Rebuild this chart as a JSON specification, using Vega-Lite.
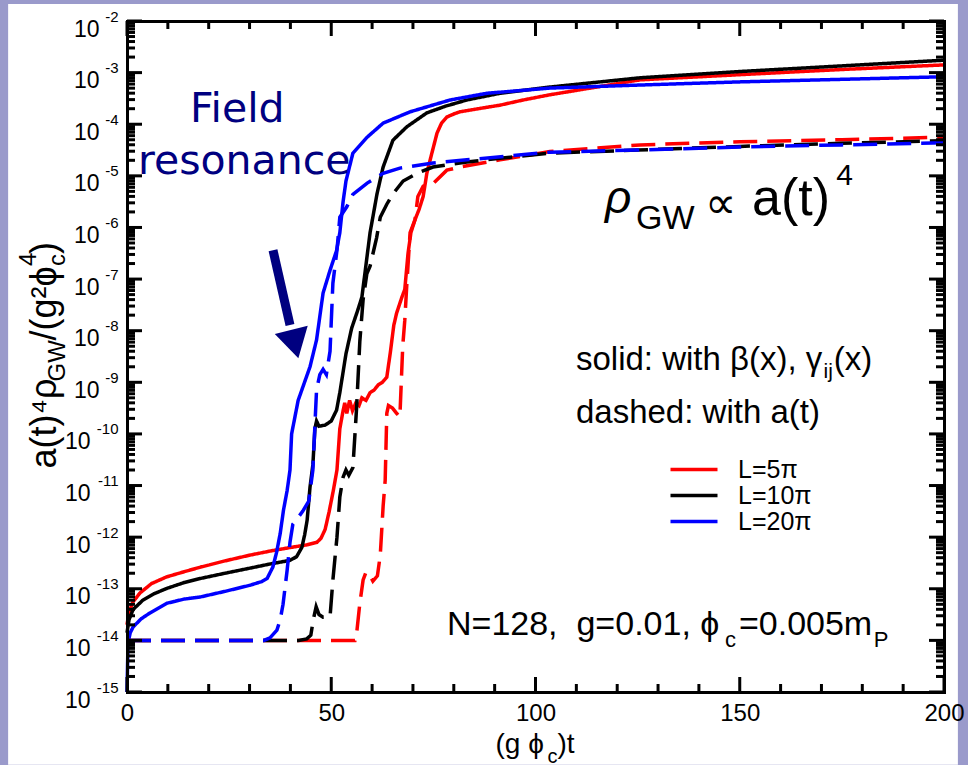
{
"$schema": "https://vega.github.io/schema/vega-lite/v6.json",
"width": 817, "height": 671,
"autosize": {"type": "none"},
"padding": {"left": 127, "top": 21, "right": 24, "bottom": 73},
"background": "#9a9acb",
"config": {
 "view": {"stroke": null},
 "axis": {"grid": false, "zindex": 1, "tickColor": "black", "tickWidth": 2, "domainColor": "black", "domainWidth": 3, "domainCap": "square", "labelColor": "black", "labelFont": "Liberation Sans", "titleFont": "Liberation Sans", "titleColor": "black", "titleFontWeight": "normal", "labelOverlap": false, "labelFlush": false, "titleAlign": "left", "titleBaseline": "alphabetic", "titlePadding": 0},
 "line": {"strokeWidth": 3.5, "clip": true}
},
"datasets": {
 "xmaj": [{"t":0},{"t":50},{"t":100},{"t":150},{"t":200}],
 "xmin": [{"t":10},{"t":20},{"t":30},{"t":40},{"t":60},{"t":70},{"t":80},{"t":90},{"t":110},{"t":120},{"t":130},{"t":140},{"t":160},{"t":170},{"t":180},{"t":190}],
 "ymaj": [{"v":1e-15},{"v":1e-14},{"v":1e-13},{"v":1e-12},{"v":1e-11},{"v":1e-10},{"v":1e-9},{"v":1e-8},{"v":1e-7},{"v":1e-6},{"v":1e-5},{"v":1e-4},{"v":1e-3},{"v":1e-2}],
 "ymin": [{"v":2e-15},{"v":3e-15},{"v":4e-15},{"v":5e-15},{"v":6e-15},{"v":7e-15},{"v":8e-15},{"v":9e-15},{"v":2e-14},{"v":3e-14},{"v":4e-14},{"v":5e-14},{"v":6e-14},{"v":7e-14},{"v":8e-14},{"v":9e-14},{"v":2e-13},{"v":3e-13},{"v":4e-13},{"v":5e-13},{"v":6e-13},{"v":7e-13},{"v":8e-13},{"v":9e-13},{"v":2e-12},{"v":3e-12},{"v":4e-12},{"v":5e-12},{"v":6e-12},{"v":7e-12},{"v":8e-12},{"v":9e-12},{"v":2e-11},{"v":3e-11},{"v":4e-11},{"v":5e-11},{"v":6e-11},{"v":7e-11},{"v":8e-11},{"v":9e-11},{"v":2e-10},{"v":3e-10},{"v":4e-10},{"v":5e-10},{"v":6e-10},{"v":7e-10},{"v":8e-10},{"v":9e-10},{"v":2e-9},{"v":3e-9},{"v":4e-9},{"v":5e-9},{"v":6e-9},{"v":7e-9},{"v":8e-9},{"v":9e-9},{"v":2e-8},{"v":3e-8},{"v":4e-8},{"v":5e-8},{"v":6e-8},{"v":7e-8},{"v":8e-8},{"v":9e-8},{"v":2e-7},{"v":3e-7},{"v":4e-7},{"v":5e-7},{"v":6e-7},{"v":7e-7},{"v":8e-7},{"v":9e-7},{"v":2e-6},{"v":3e-6},{"v":4e-6},{"v":5e-6},{"v":6e-6},{"v":7e-6},{"v":8e-6},{"v":9e-6},{"v":2e-5},{"v":3e-5},{"v":4e-5},{"v":5e-5},{"v":6e-5},{"v":7e-5},{"v":8e-5},{"v":9e-5},{"v":2e-4},{"v":3e-4},{"v":4e-4},{"v":5e-4},{"v":6e-4},{"v":7e-4},{"v":8e-4},{"v":9e-4},{"v":2e-3},{"v":3e-3},{"v":4e-3},{"v":5e-3},{"v":6e-3},{"v":7e-3},{"v":8e-3},{"v":9e-3}]
},
"resolve": {"axis": {"x": "independent", "y": "independent"}},
"layer": [
 {
  "data": {"values": [{}]},
  "mark": {"type": "rect", "color": "white", "clip": false},
  "encoding": {
   "x": {"datum": -29.1, "type": "quantitative", "scale": {"domain": [0, 200], "nice": false, "zero": false}, "axis": null},
   "x2": {"datum": 203.4},
   "y": {"datum": 0.0214, "type": "quantitative", "scale": {"type": "log", "domain": [1e-15, 1e-2], "nice": false},
    "axis": {"zindex": 1, "orient": "left", "values": [1e-15,1e-14,1e-13,1e-12,1e-11,1e-10,1e-9,1e-8,1e-7,1e-6,1e-5,1e-4,1e-3,1e-2], "labelExpr": "'-' + round(-log(datum.value)/LN10)", "labelFontSize": 15, "labelAlign": "right", "labelBaseline": "middle", "labelOffset": -5, "labelPadding": 9, "ticks": false, "domain": false, "title": "GW", "titleFontSize": 24, "titleAngle": 270, "titleX": -63, "titleY": 360}},
   "y2": {"datum": 3.9e-17}
  }
 },
 {
  "data": {"values": [
{"L":"L=5π","type":"solid","t":0,"v":2.0e-14},{"L":"L=5π","type":"solid","t":0.5,"v":3.55e-14},{"L":"L=5π","type":"solid","t":1.5,"v":5.62e-14},{"L":"L=5π","type":"solid","t":3.2,"v":8.32e-14},{"L":"L=5π","type":"solid","t":6,"v":1.26e-13},{"L":"L=5π","type":"solid","t":9.7,"v":1.70e-13},{"L":"L=5π","type":"solid","t":14,"v":2.14e-13},{"L":"L=5π","type":"solid","t":18,"v":2.63e-13},{"L":"L=5π","type":"solid","t":24,"v":3.47e-13},{"L":"L=5π","type":"solid","t":30,"v":4.47e-13},{"L":"L=5π","type":"solid","t":35,"v":5.37e-13},{"L":"L=5π","type":"solid","t":40,"v":6.31e-13},{"L":"L=5π","type":"solid","t":44,"v":7.08e-13},{"L":"L=5π","type":"solid","t":46.5,"v":7.94e-13},{"L":"L=5π","type":"solid","t":47.5,"v":9.55e-13},{"L":"L=5π","type":"solid","t":48.5,"v":1.41e-12},{"L":"L=5π","type":"solid","t":49.5,"v":3.16e-12},{"L":"L=5π","type":"solid","t":50.5,"v":7.94e-12},{"L":"L=5π","type":"solid","t":51.4,"v":2.0e-11},{"L":"L=5π","type":"solid","t":52.1,"v":1.26e-10},{"L":"L=5π","type":"solid","t":52.9,"v":2.82e-10},{"L":"L=5π","type":"solid","t":53.3,"v":3.98e-10},{"L":"L=5π","type":"solid","t":53.8,"v":2.51e-10},{"L":"L=5π","type":"solid","t":54.5,"v":4.47e-10},{"L":"L=5π","type":"solid","t":55.2,"v":2.82e-10},{"L":"L=5π","type":"solid","t":56,"v":3.98e-10},{"L":"L=5π","type":"solid","t":56.8,"v":3.55e-10},{"L":"L=5π","type":"solid","t":57.5,"v":5.01e-10},{"L":"L=5π","type":"solid","t":58.5,"v":4.47e-10},{"L":"L=5π","type":"solid","t":59.5,"v":6.31e-10},{"L":"L=5π","type":"solid","t":60.5,"v":7.08e-10},{"L":"L=5π","type":"solid","t":61.5,"v":8.91e-10},{"L":"L=5π","type":"solid","t":62.5,"v":1.0e-9},{"L":"L=5π","type":"solid","t":63.6,"v":1.26e-9},{"L":"L=5π","type":"solid","t":64.5,"v":3.98e-9},{"L":"L=5π","type":"solid","t":65.3,"v":1.26e-8},{"L":"L=5π","type":"solid","t":66,"v":2.19e-8},{"L":"L=5π","type":"solid","t":67.3,"v":4.47e-8},{"L":"L=5π","type":"solid","t":68,"v":6.31e-8},{"L":"L=5π","type":"solid","t":68.8,"v":3.16e-7},{"L":"L=5π","type":"solid","t":69.5,"v":7.94e-7},{"L":"L=5π","type":"solid","t":70.5,"v":1.41e-6},{"L":"L=5π","type":"solid","t":71.5,"v":2.24e-6},{"L":"L=5π","type":"solid","t":72.5,"v":3.98e-6},{"L":"L=5π","type":"solid","t":73.4,"v":1.12e-5},{"L":"L=5π","type":"solid","t":74.5,"v":2.51e-5},{"L":"L=5π","type":"solid","t":75.9,"v":6.76e-5},{"L":"L=5π","type":"solid","t":77,"v":1.05e-4},{"L":"L=5π","type":"solid","t":78.3,"v":1.38e-4},{"L":"L=5π","type":"solid","t":80,"v":1.58e-4},{"L":"L=5π","type":"solid","t":81.5,"v":1.74e-4},{"L":"L=5π","type":"solid","t":86,"v":2.0e-4},{"L":"L=5π","type":"solid","t":91.3,"v":2.34e-4},{"L":"L=5π","type":"solid","t":97,"v":2.95e-4},{"L":"L=5π","type":"solid","t":103.5,"v":3.72e-4},{"L":"L=5π","type":"solid","t":125.6,"v":7.24e-4},{"L":"L=5π","type":"solid","t":150,"v":9.12e-4},{"L":"L=5π","type":"solid","t":175,"v":1.15e-3},{"L":"L=5π","type":"solid","t":200,"v":1.41e-3}
  ]},
  "mark": {"type": "line"},
  "encoding": {
   "x": {"field": "t", "type": "quantitative", "scale": {"domain": [0, 200], "nice": false, "zero": false},
    "axis": {"zindex": 1, "orient": "bottom", "values": [0, 50, 100, 150, 200], "format": "d", "labelFontSize": 24, "labelPadding": 9, "ticks": false, "domain": true, "title": "(g ϕ", "titleFontSize": 28, "titleX": 368, "titleY": 60, "titleAngle": 0}},
   "y": {"field": "v", "type": "quantitative", "scale": {"type": "log", "domain": [1e-15, 1e-2], "nice": false},
    "axis": {"zindex": 1, "orient": "left", "values": [1e-15,1e-14,1e-13,1e-12,1e-11,1e-10,1e-9,1e-8,1e-7,1e-6,1e-5,1e-4,1e-3,1e-2], "labelExpr": "'10'", "labelFontSize": 23, "labelAlign": "right", "labelBaseline": "middle", "labelOffset": 8, "labelPadding": {"condition": {"test": "datum.value < 1e-9", "value": 37}, "value": 28}, "ticks": false, "domain": true, "title": "a(t)⁴ρ", "titleFontSize": 36, "titleAngle": 270, "titleX": -72, "titleY": 447}},
   "color": {"field": "L", "type": "nominal", "scale": {"domain": ["L=5π", "L=10π", "L=20π"], "range": ["#ff0000", "#000000", "#0000ff"]},
    "legend": {"orient": "none", "legendX": 554.5, "legendY": 436, "title": null, "symbolType": "M-2.35,0H2.35", "symbolSize": 400, "symbolStrokeWidth": 3.5, "labelFontSize": 25, "labelFont": "Liberation Sans", "labelColor": "black", "labelOffset": 31.5, "rowPadding": -1, "padding": 0}},
   "strokeDash": {"field": "type", "type": "nominal", "scale": {"domain": ["solid", "dashed"], "range": [[1, 0], [24, 10]]}, "legend": null}
  }
 },
 {
  "data": {"values": [
{"L":"L=10π","type":"solid","t":0,"v":1.41e-14},{"L":"L=10π","type":"solid","t":0.5,"v":2.51e-14},{"L":"L=10π","type":"solid","t":1.5,"v":3.98e-14},{"L":"L=10π","type":"solid","t":3.9,"v":6.03e-14},{"L":"L=10π","type":"solid","t":6.5,"v":7.94e-14},{"L":"L=10π","type":"solid","t":9.8,"v":1.02e-13},{"L":"L=10π","type":"solid","t":14,"v":1.32e-13},{"L":"L=10π","type":"solid","t":17.9,"v":1.58e-13},{"L":"L=10π","type":"solid","t":24,"v":2.0e-13},{"L":"L=10π","type":"solid","t":30.1,"v":2.51e-13},{"L":"L=10π","type":"solid","t":35,"v":3.02e-13},{"L":"L=10π","type":"solid","t":39.9,"v":3.55e-13},{"L":"L=10π","type":"solid","t":41.5,"v":4.17e-13},{"L":"L=10π","type":"solid","t":42.8,"v":6.31e-13},{"L":"L=10π","type":"solid","t":43.5,"v":1.12e-12},{"L":"L=10π","type":"solid","t":44.1,"v":2.14e-12},{"L":"L=10π","type":"solid","t":44.8,"v":9.33e-12},{"L":"L=10π","type":"solid","t":45.5,"v":2.51e-11},{"L":"L=10π","type":"solid","t":46.0,"v":1.26e-10},{"L":"L=10π","type":"solid","t":46.4,"v":1.78e-10},{"L":"L=10π","type":"solid","t":47,"v":1.41e-10},{"L":"L=10π","type":"solid","t":48.5,"v":1.48e-10},{"L":"L=10π","type":"solid","t":50,"v":1.78e-10},{"L":"L=10π","type":"solid","t":51.3,"v":2.88e-10},{"L":"L=10π","type":"solid","t":52.1,"v":6.31e-10},{"L":"L=10π","type":"solid","t":53.6,"v":3.55e-9},{"L":"L=10π","type":"solid","t":55,"v":1.12e-8},{"L":"L=10π","type":"solid","t":56.5,"v":2.51e-8},{"L":"L=10π","type":"solid","t":57.5,"v":4.47e-8},{"L":"L=10π","type":"solid","t":58.7,"v":2.51e-7},{"L":"L=10π","type":"solid","t":59.5,"v":7.94e-7},{"L":"L=10π","type":"solid","t":60.3,"v":1.78e-6},{"L":"L=10π","type":"solid","t":61.2,"v":4.47e-6},{"L":"L=10π","type":"solid","t":62.7,"v":1.48e-5},{"L":"L=10π","type":"solid","t":65.1,"v":4.90e-5},{"L":"L=10π","type":"solid","t":68.5,"v":8.91e-5},{"L":"L=10π","type":"solid","t":73.4,"v":1.66e-4},{"L":"L=10π","type":"solid","t":78,"v":2.24e-4},{"L":"L=10π","type":"solid","t":83.2,"v":2.95e-4},{"L":"L=10π","type":"solid","t":91.3,"v":3.98e-4},{"L":"L=10π","type":"solid","t":103.5,"v":5.25e-4},{"L":"L=10π","type":"solid","t":125.6,"v":7.94e-4},{"L":"L=10π","type":"solid","t":150,"v":1.05e-3},{"L":"L=10π","type":"solid","t":175,"v":1.35e-3},{"L":"L=10π","type":"solid","t":200,"v":1.74e-3}
  ]},
  "mark": {"type": "line"},
  "encoding": {
   "x": {"field": "t", "type": "quantitative",
    "axis": {"zindex": 1, "orient": "bottom", "values": [0, 200], "labels": false, "ticks": false, "offset": -15, "domain": false, "title": "c", "titleFontSize": 20, "titleX": 420, "titleY": 85, "titleAngle": 0}},
   "y": {"field": "v", "type": "quantitative",
    "axis": {"zindex": 1, "orient": "left", "values": [1e-15, 1e-2], "labels": false, "ticks": false, "offset": -15, "domain": false, "title": "/(g²ϕ", "titleFontSize": 36, "titleAngle": 270, "titleX": -87, "titleY": 319}},
   "color": {"field": "L", "type": "nominal"},
   "strokeDash": {"field": "type", "type": "nominal", "legend": null}
  }
 },
 {
  "data": {"values": [
{"L":"L=20π","type":"solid","t":0,"v":1e-15},{"L":"L=20π","type":"solid","t":0.25,"v":8.91e-15},{"L":"L=20π","type":"solid","t":0.8,"v":1.41e-14},{"L":"L=20π","type":"solid","t":1.5,"v":1.82e-14},{"L":"L=20π","type":"solid","t":3.5,"v":2.63e-14},{"L":"L=20π","type":"solid","t":5.6,"v":3.39e-14},{"L":"L=20π","type":"solid","t":9.8,"v":5.25e-14},{"L":"L=20π","type":"solid","t":14,"v":6.31e-14},{"L":"L=20π","type":"solid","t":17.9,"v":6.92e-14},{"L":"L=20π","type":"solid","t":24,"v":8.91e-14},{"L":"L=20π","type":"solid","t":30.1,"v":1.17e-13},{"L":"L=20π","type":"solid","t":33,"v":1.38e-13},{"L":"L=20π","type":"solid","t":34.3,"v":1.58e-13},{"L":"L=20π","type":"solid","t":35.7,"v":2.63e-13},{"L":"L=20π","type":"solid","t":36.6,"v":5.01e-13},{"L":"L=20π","type":"solid","t":37.5,"v":1.17e-12},{"L":"L=20π","type":"solid","t":38.3,"v":3.31e-12},{"L":"L=20π","type":"solid","t":39.2,"v":8.0e-12},{"L":"L=20π","type":"solid","t":39.9,"v":2.0e-11},{"L":"L=20π","type":"solid","t":40.3,"v":1.0e-10},{"L":"L=20π","type":"solid","t":41.9,"v":4.47e-10},{"L":"L=20π","type":"solid","t":44.8,"v":2.0e-9},{"L":"L=20π","type":"solid","t":46.4,"v":6.61e-9},{"L":"L=20π","type":"solid","t":48,"v":5.37e-8},{"L":"L=20π","type":"solid","t":49.7,"v":1.48e-7},{"L":"L=20π","type":"solid","t":51.3,"v":3.55e-7},{"L":"L=20π","type":"solid","t":52.1,"v":7.94e-7},{"L":"L=20π","type":"solid","t":52.9,"v":3.16e-6},{"L":"L=20π","type":"solid","t":53.6,"v":7.94e-6},{"L":"L=20π","type":"solid","t":55.3,"v":2.75e-5},{"L":"L=20π","type":"solid","t":58.8,"v":5.62e-5},{"L":"L=20π","type":"solid","t":62.7,"v":1.05e-4},{"L":"L=20π","type":"solid","t":69.3,"v":1.74e-4},{"L":"L=20π","type":"solid","t":79.1,"v":2.95e-4},{"L":"L=20π","type":"solid","t":88.1,"v":3.98e-4},{"L":"L=20π","type":"solid","t":103.5,"v":5.01e-4},{"L":"L=20π","type":"solid","t":125.6,"v":5.75e-4},{"L":"L=20π","type":"solid","t":150,"v":6.61e-4},{"L":"L=20π","type":"solid","t":175,"v":7.41e-4},{"L":"L=20π","type":"solid","t":200,"v":8.32e-4}
  ]},
  "mark": {"type": "line"},
  "encoding": {
   "x": {"field": "t", "type": "quantitative",
    "axis": {"zindex": 1, "orient": "bottom", "values": [0, 200], "labels": false, "ticks": false, "offset": -8, "domain": false, "title": ")t", "titleFontSize": 28, "titleX": 430, "titleY": 68, "titleAngle": 0}},
   "y": {"field": "v", "type": "quantitative",
    "axis": {"zindex": 1, "orient": "left", "values": [1e-15, 1e-2], "labels": false, "ticks": false, "offset": -8, "domain": false, "title": "c", "titleFontSize": 24, "titleAngle": 270, "titleX": -71, "titleY": 244.5}},
   "color": {"field": "L", "type": "nominal"},
   "strokeDash": {"field": "type", "type": "nominal", "legend": null}
  }
 },
 {
  "data": {"values": [
{"L":"L=5π","type":"dashed","t":0,"v":1e-14},{"L":"L=5π","type":"dashed","t":55.8,"v":1e-14},{"L":"L=5π","type":"dashed","t":56.3,"v":1.58e-14},{"L":"L=5π","type":"dashed","t":57,"v":5.25e-14},{"L":"L=5π","type":"dashed","t":57.8,"v":1.48e-13},{"L":"L=5π","type":"dashed","t":58.5,"v":2.09e-13},{"L":"L=5π","type":"dashed","t":59.3,"v":1.91e-13},{"L":"L=5π","type":"dashed","t":60.2,"v":1.41e-13},{"L":"L=5π","type":"dashed","t":61.3,"v":1.78e-13},{"L":"L=5π","type":"dashed","t":62,"v":4.47e-13},{"L":"L=5π","type":"dashed","t":62.7,"v":3.98e-12},{"L":"L=5π","type":"dashed","t":63.2,"v":1.26e-11},{"L":"L=5π","type":"dashed","t":63.6,"v":2.51e-10},{"L":"L=5π","type":"dashed","t":64,"v":3.55e-10},{"L":"L=5π","type":"dashed","t":65,"v":3.16e-10},{"L":"L=5π","type":"dashed","t":66,"v":2.51e-10},{"L":"L=5π","type":"dashed","t":66.8,"v":2.14e-10},{"L":"L=5π","type":"dashed","t":67.5,"v":5.01e-9},{"L":"L=5π","type":"dashed","t":68,"v":1.58e-8},{"L":"L=5π","type":"dashed","t":68.5,"v":7.94e-8},{"L":"L=5π","type":"dashed","t":69.3,"v":7.94e-7},{"L":"L=5π","type":"dashed","t":70.5,"v":1.41e-6},{"L":"L=5π","type":"dashed","t":71.2,"v":3.98e-6},{"L":"L=5π","type":"dashed","t":72.5,"v":6.31e-6},{"L":"L=5π","type":"dashed","t":74.9,"v":7.08e-6},{"L":"L=5π","type":"dashed","t":78.3,"v":1.29e-5},{"L":"L=5π","type":"dashed","t":81.5,"v":1.48e-5},{"L":"L=5π","type":"dashed","t":91.3,"v":2.04e-5},{"L":"L=5π","type":"dashed","t":103.5,"v":2.95e-5},{"L":"L=5π","type":"dashed","t":125.6,"v":3.98e-5},{"L":"L=5π","type":"dashed","t":150,"v":4.57e-5},{"L":"L=5π","type":"dashed","t":175,"v":5.01e-5},{"L":"L=5π","type":"dashed","t":200,"v":5.62e-5}
  ]},
  "mark": {"type": "line"},
  "encoding": {
   "x": {"field": "t", "type": "quantitative", "axis": null},
   "y": {"field": "v", "type": "quantitative",
    "axis": {"zindex": 1, "orient": "right", "values": [1e-15, 1e-2], "labels": false, "ticks": false, "offset": -15, "domain": false, "title": "4", "titleFontSize": 24, "titleAngle": 270, "titleX": -894, "titleY": 244.5}},
   "color": {"field": "L", "type": "nominal"},
   "strokeDash": {"field": "type", "type": "nominal", "legend": null}
  }
 },
 {
  "data": {"values": [
{"L":"L=10π","type":"dashed","t":0,"v":1e-14},{"L":"L=10π","type":"dashed","t":42,"v":1e-14},{"L":"L=10π","type":"dashed","t":44,"v":1.07e-14},{"L":"L=10π","type":"dashed","t":45,"v":1.26e-14},{"L":"L=10π","type":"dashed","t":45.6,"v":2.51e-14},{"L":"L=10π","type":"dashed","t":46.3,"v":4.47e-14},{"L":"L=10π","type":"dashed","t":47,"v":3.16e-14},{"L":"L=10π","type":"dashed","t":48,"v":2.82e-14},{"L":"L=10π","type":"dashed","t":49.7,"v":2.82e-14},{"L":"L=10π","type":"dashed","t":50.4,"v":1.48e-13},{"L":"L=10π","type":"dashed","t":51.4,"v":1.0e-12},{"L":"L=10π","type":"dashed","t":52.1,"v":6.03e-12},{"L":"L=10π","type":"dashed","t":52.9,"v":1.45e-11},{"L":"L=10π","type":"dashed","t":53.6,"v":2.0e-11},{"L":"L=10π","type":"dashed","t":54.3,"v":1.58e-11},{"L":"L=10π","type":"dashed","t":55.3,"v":2.24e-11},{"L":"L=10π","type":"dashed","t":56.2,"v":3.16e-10},{"L":"L=10π","type":"dashed","t":57,"v":6.31e-9},{"L":"L=10π","type":"dashed","t":57.8,"v":3.98e-8},{"L":"L=10π","type":"dashed","t":58.7,"v":1.26e-7},{"L":"L=10π","type":"dashed","t":59.5,"v":1.78e-7},{"L":"L=10π","type":"dashed","t":61.1,"v":6.31e-7},{"L":"L=10π","type":"dashed","t":62,"v":1.58e-6},{"L":"L=10π","type":"dashed","t":63.6,"v":2.82e-6},{"L":"L=10π","type":"dashed","t":65.1,"v":4.47e-6},{"L":"L=10π","type":"dashed","t":67.6,"v":7.94e-6},{"L":"L=10π","type":"dashed","t":71,"v":1.12e-5},{"L":"L=10π","type":"dashed","t":74.9,"v":1.48e-5},{"L":"L=10π","type":"dashed","t":83.2,"v":1.86e-5},{"L":"L=10π","type":"dashed","t":91.3,"v":2.19e-5},{"L":"L=10π","type":"dashed","t":103.5,"v":2.75e-5},{"L":"L=10π","type":"dashed","t":125,"v":3.16e-5},{"L":"L=10π","type":"dashed","t":150,"v":3.72e-5},{"L":"L=10π","type":"dashed","t":175,"v":4.27e-5},{"L":"L=10π","type":"dashed","t":200,"v":4.79e-5}
  ]},
  "mark": {"type": "line"},
  "encoding": {
   "x": {"field": "t", "type": "quantitative", "axis": null},
   "y": {"field": "v", "type": "quantitative",
    "axis": {"zindex": 1, "orient": "right", "values": [1e-15, 1e-2], "labels": false, "ticks": false, "offset": -8, "domain": false, "title": ")", "titleFontSize": 36, "titleAngle": 270, "titleX": -881, "titleY": 232.5}},
   "color": {"field": "L", "type": "nominal"},
   "strokeDash": {"field": "type", "type": "nominal", "legend": null}
  }
 },
 {
  "data": {"values": [
{"L":"L=20π","type":"dashed","t":0,"v":1e-14},{"L":"L=20π","type":"dashed","t":33.5,"v":1e-14},{"L":"L=20π","type":"dashed","t":35,"v":1.12e-14},{"L":"L=20π","type":"dashed","t":36.7,"v":1.58e-14},{"L":"L=20π","type":"dashed","t":37.5,"v":2.51e-14},{"L":"L=20π","type":"dashed","t":38.2,"v":5.01e-14},{"L":"L=20π","type":"dashed","t":39.2,"v":2.29e-13},{"L":"L=20π","type":"dashed","t":39.9,"v":7.94e-13},{"L":"L=20π","type":"dashed","t":40.6,"v":1.78e-12},{"L":"L=20π","type":"dashed","t":41.6,"v":2.24e-12},{"L":"L=20π","type":"dashed","t":43,"v":3.16e-12},{"L":"L=20π","type":"dashed","t":44.5,"v":5.01e-12},{"L":"L=20π","type":"dashed","t":45.5,"v":2.0e-11},{"L":"L=20π","type":"dashed","t":46.4,"v":7.08e-10},{"L":"L=20π","type":"dashed","t":47.2,"v":1.41e-9},{"L":"L=20π","type":"dashed","t":48,"v":1.78e-9},{"L":"L=20π","type":"dashed","t":48.8,"v":1.41e-9},{"L":"L=20π","type":"dashed","t":49.7,"v":3.98e-9},{"L":"L=20π","type":"dashed","t":50.4,"v":8.32e-8},{"L":"L=20π","type":"dashed","t":51.4,"v":3.63e-7},{"L":"L=20π","type":"dashed","t":52.1,"v":1.58e-6},{"L":"L=20π","type":"dashed","t":53.8,"v":2.51e-6},{"L":"L=20π","type":"dashed","t":55.3,"v":4.37e-6},{"L":"L=20π","type":"dashed","t":58.8,"v":7.24e-6},{"L":"L=20π","type":"dashed","t":62.7,"v":1.12e-5},{"L":"L=20π","type":"dashed","t":66.8,"v":1.41e-5},{"L":"L=20π","type":"dashed","t":74.9,"v":1.78e-5},{"L":"L=20π","type":"dashed","t":83.2,"v":2.04e-5},{"L":"L=20π","type":"dashed","t":103.5,"v":2.88e-5},{"L":"L=20π","type":"dashed","t":125,"v":3.16e-5},{"L":"L=20π","type":"dashed","t":150,"v":3.63e-5},{"L":"L=20π","type":"dashed","t":175,"v":3.98e-5},{"L":"L=20π","type":"dashed","t":200,"v":4.37e-5}
  ]},
  "mark": {"type": "line"},
  "encoding": {
   "x": {"field": "t", "type": "quantitative",
    "axis": {"zindex": 1, "orient": "top", "values": [0, 200], "labels": false, "ticks": false, "domain": true, "title": null}},
   "y": {"field": "v", "type": "quantitative",
    "axis": {"zindex": 1, "orient": "right", "values": [1e-15, 1e-2], "labels": false, "ticks": false, "domain": true, "title": null}},
   "color": {"field": "L", "type": "nominal"},
   "strokeDash": {"field": "type", "type": "nominal", "legend": null}
  }
 },
 {
  "data": {"name": "xmaj"},
  "mark": {"type": "rule", "color": "black", "strokeWidth": 3, "opacity": 1},
  "encoding": {"x": {"field": "t", "type": "quantitative", "axis": null}, "y": {"datum": 1e-15, "type": "quantitative", "axis": null}, "y2": {"datum": 1.953e-15}}
 },
 {
  "data": {"name": "xmaj"},
  "mark": {"type": "rule", "color": "black", "strokeWidth": 3, "opacity": 1},
  "encoding": {"x": {"field": "t", "type": "quantitative", "axis": null}, "y": {"datum": 1e-2, "type": "quantitative", "axis": null}, "y2": {"datum": 5.12e-3}}
 },
 {
  "data": {"name": "xmin"},
  "mark": {"type": "rule", "color": "black", "strokeWidth": 3, "opacity": 1},
  "encoding": {"x": {"field": "t", "type": "quantitative", "axis": null}, "y": {"datum": 1e-15, "type": "quantitative", "axis": null}, "y2": {"datum": 1.429e-15}}
 },
 {
  "data": {"name": "xmin"},
  "mark": {"type": "rule", "color": "black", "strokeWidth": 3, "opacity": 1},
  "encoding": {"x": {"field": "t", "type": "quantitative", "axis": null}, "y": {"datum": 1e-2, "type": "quantitative", "axis": null}, "y2": {"datum": 7.0e-3}}
 },
 {
  "data": {"name": "ymaj"},
  "mark": {"type": "rule", "color": "black", "strokeWidth": 3, "opacity": 1},
  "encoding": {"y": {"field": "v", "type": "quantitative", "axis": null}, "x": {"datum": 0, "type": "quantitative", "axis": null}, "x2": {"datum": 3.672}}
 },
 {
  "data": {"name": "ymaj"},
  "mark": {"type": "rule", "color": "black", "strokeWidth": 3, "opacity": 1},
  "encoding": {"y": {"field": "v", "type": "quantitative", "axis": null}, "x": {"datum": 200, "type": "quantitative", "axis": null}, "x2": {"datum": 196.33}}
 },
 {
  "data": {"name": "ymin"},
  "mark": {"type": "rule", "color": "black", "strokeWidth": 3, "opacity": 1},
  "encoding": {"y": {"field": "v", "type": "quantitative", "axis": null}, "x": {"datum": 0, "type": "quantitative", "axis": null}, "x2": {"datum": 1.958}}
 },
 {
  "data": {"name": "ymin"},
  "mark": {"type": "rule", "color": "black", "strokeWidth": 3, "opacity": 1},
  "encoding": {"y": {"field": "v", "type": "quantitative", "axis": null}, "x": {"datum": 200, "type": "quantitative", "axis": null}, "x2": {"datum": 198.04}}
 },
 {
  "data": {"values": [{}]},
  "mark": {"type": "text", "text": "Field", "font": "DejaVu Sans", "fontSize": 41, "color": "#000080", "align": "left", "baseline": "alphabetic"},
  "encoding": {"x": {"datum": 15.42, "type": "quantitative", "axis": null}, "y": {"datum": 1.104e-4, "type": "quantitative", "axis": null}}
 },
 {
  "data": {"values": [{}]},
  "mark": {"type": "text", "text": "resonance", "font": "DejaVu Sans", "fontSize": 41, "color": "#000080", "align": "left", "baseline": "alphabetic"},
  "encoding": {"x": {"datum": 2.69, "type": "quantitative", "axis": null}, "y": {"datum": 1.084e-5, "type": "quantitative", "axis": null}}
 },
 {
  "data": {"values": [{}]},
  "mark": {"type": "text", "text": "solid: with β(x), γ", "font": "Liberation Sans", "fontSize": 33, "color": "black", "align": "left", "baseline": "alphabetic"},
  "encoding": {"x": {"datum": 109.9, "type": "quantitative", "axis": null}, "y": {"datum": 1.72e-9, "type": "quantitative", "axis": null}}
 },
 {
  "data": {"values": [{}]},
  "mark": {"type": "text", "text": "dashed: with a(t)", "font": "Liberation Sans", "fontSize": 33, "color": "black", "align": "left", "baseline": "alphabetic"},
  "encoding": {"x": {"datum": 109.9, "type": "quantitative", "axis": null}, "y": {"datum": 1.62e-10, "type": "quantitative", "axis": null}}
 },
 {
  "data": {"values": [{}]},
  "mark": {"type": "text", "text": "ij", "font": "Liberation Sans", "fontSize": 21, "color": "black", "align": "left", "baseline": "alphabetic"},
  "encoding": {"x": {"datum": 170.5, "type": "quantitative", "axis": null}, "y": {"datum": 1.2e-9, "type": "quantitative", "axis": null}}
 },
 {
  "data": {"values": [{}]},
  "mark": {"type": "text", "text": "(x)", "font": "Liberation Sans", "fontSize": 33, "color": "black", "align": "left", "baseline": "alphabetic"},
  "encoding": {"x": {"datum": 173.0, "type": "quantitative", "axis": null}, "y": {"datum": 1.72e-9, "type": "quantitative", "axis": null}}
 },
 {
  "data": {"values": [{}]},
  "mark": {"type": "text", "text": "ρ", "font": "Liberation Sans", "fontStyle": "italic", "fontSize": 46, "color": "black", "align": "left", "baseline": "alphabetic"},
  "encoding": {"x": {"datum": 117.0, "type": "quantitative", "axis": null}, "y": {"datum": 1.9e-6, "type": "quantitative", "axis": null}}
 },
 {
  "data": {"values": [{}]},
  "mark": {"type": "text", "text": "GW", "font": "Liberation Sans", "fontSize": 34, "color": "black", "align": "left", "baseline": "alphabetic"},
  "encoding": {"x": {"datum": 124.6, "type": "quantitative", "axis": null}, "y": {"datum": 9.31e-7, "type": "quantitative", "axis": null}}
 },
 {
  "data": {"values": [{}]},
  "mark": {"type": "text", "text": "∝", "font": "DejaVu Sans", "fontSize": 44, "color": "black", "align": "left", "baseline": "alphabetic"},
  "encoding": {"x": {"datum": 141.5, "type": "quantitative", "axis": null}, "y": {"datum": 1.52e-6, "type": "quantitative", "axis": null}}
 },
 {
  "data": {"values": [{}]},
  "mark": {"type": "text", "text": "a(t)", "font": "Liberation Sans", "fontSize": 52, "color": "black", "align": "left", "baseline": "alphabetic"},
  "encoding": {"x": {"datum": 153.0, "type": "quantitative", "axis": null}, "y": {"datum": 1.74e-6, "type": "quantitative", "axis": null}}
 },
 {
  "data": {"values": [{}]},
  "mark": {"type": "text", "text": "4", "font": "Liberation Sans", "fontSize": 30, "color": "black", "align": "left", "baseline": "alphabetic"},
  "encoding": {"x": {"datum": 173.6, "type": "quantitative", "axis": null}, "y": {"datum": 6.64e-6, "type": "quantitative", "axis": null}}
 },
 {
  "data": {"values": [{}]},
  "mark": {"type": "text", "text": "N=128,\u00a0 g=0.01, ϕ", "font": "Liberation Sans", "fontSize": 34, "color": "black", "align": "left", "baseline": "alphabetic"},
  "encoding": {"x": {"datum": 78.33, "type": "quantitative", "axis": null}, "y": {"datum": 1.26e-14, "type": "quantitative", "axis": null}}
 },
 {
  "data": {"values": [{}]},
  "mark": {"type": "text", "text": "c", "font": "Liberation Sans", "fontSize": 22, "color": "black", "align": "left", "baseline": "alphabetic"},
  "encoding": {"x": {"datum": 146.4, "type": "quantitative", "axis": null}, "y": {"datum": 7.4e-15, "type": "quantitative", "axis": null}}
 },
 {
  "data": {"values": [{}]},
  "mark": {"type": "text", "text": "=0.005m", "font": "Liberation Sans", "fontSize": 34, "color": "black", "align": "left", "baseline": "alphabetic"},
  "encoding": {"x": {"datum": 149.8, "type": "quantitative", "axis": null}, "y": {"datum": 1.26e-14, "type": "quantitative", "axis": null}}
 },
 {
  "data": {"values": [{}]},
  "mark": {"type": "text", "text": "P", "font": "Liberation Sans", "fontSize": 22, "color": "black", "align": "left", "baseline": "alphabetic"},
  "encoding": {"x": {"datum": 182.8, "type": "quantitative", "axis": null}, "y": {"datum": 7.4e-15, "type": "quantitative", "axis": null}}
 },
 {
  "data": {"values": [{}]},
  "mark": {"type": "rule", "color": "#000080", "strokeWidth": 9, "strokeCap": "butt"},
  "encoding": {
   "x": {"datum": 35.74, "type": "quantitative", "axis": null},
   "y": {"datum": 3.63e-7, "type": "quantitative", "axis": null},
   "x2": {"datum": 39.9},
   "y2": {"datum": 1.29e-8}
  }
 },
 {
  "data": {"values": [{}]},
  "mark": {"type": "point", "shape": "triangle-down", "size": 1150, "filled": true, "color": "#000080", "opacity": 1, "angle": -14},
  "encoding": {"x": {"datum": 41.08, "type": "quantitative", "axis": null}, "y": {"datum": 5.5e-9, "type": "quantitative", "axis": null}}
 }
]
}
